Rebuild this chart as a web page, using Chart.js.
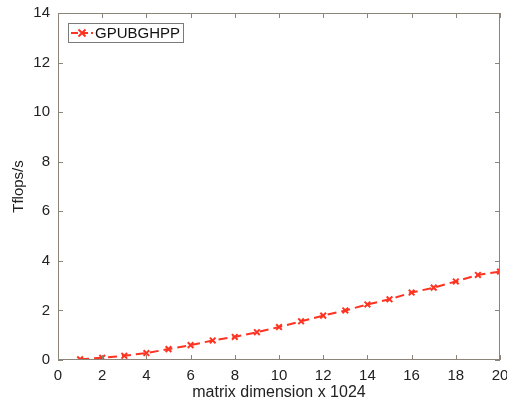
<!DOCTYPE html>
<html>
<head>
<meta charset="utf-8">
<script src="https://cdn.jsdelivr.net/npm/chart.js@4"></script>
<style>
  html, body { margin: 0; padding: 0; background: #fff; }
  #wrap { width: 507px; height: 402px; }
</style>
</head>
<body>
<div id="wrap"><canvas id="chart" width="507" height="402"></canvas></div>
<script>
// matrix dimension (x 1024)
const dims = [1, 2, 3, 4, 5, 6, 7, 8, 9, 10, 11, 12, 13, 14, 15, 16, 17, 18, 19, 20];
// GPUBGHPP Tflops/s
const gpubghpp = [0.03, 0.09, 0.17, 0.28, 0.44, 0.60, 0.79, 0.93, 1.12, 1.33,
                  1.56, 1.79, 2.00, 2.24, 2.45, 2.72, 2.92, 3.17, 3.43, 3.57];
const xTicks = [0, 2, 4, 6, 8, 10, 12, 14, 16, 18, 20];
const yTicks = [0, 2, 4, 6, 8, 10, 12, 14];

const red = "#ff3322";
const axisColor = "#8c8478";
const font = "Liberation Sans, Arial, sans-serif";

// frame + inward ticks like matlab
const framePlugin = {
  id: "frame",
  afterDraw(chart) {
    const { ctx, chartArea: a, scales } = chart;
    ctx.save();
    ctx.strokeStyle = axisColor;
    ctx.lineWidth = 1;
    ctx.strokeRect(a.left + 0.5, a.top + 0.5, a.right - a.left - 1, a.bottom - a.top - 1);
    ctx.beginPath();
    xTicks.forEach(v => {
      const x = Math.round(scales.x.getPixelForValue(v)) + 0.5;
      ctx.moveTo(x, a.bottom); ctx.lineTo(x, a.bottom - 5);
      ctx.moveTo(x, a.top); ctx.lineTo(x, a.top + 5);
    });
    yTicks.forEach(v => {
      const y = Math.round(scales.y.getPixelForValue(v)) + 0.5;
      ctx.moveTo(a.left, y); ctx.lineTo(a.left + 5, y);
      ctx.moveTo(a.right, y); ctx.lineTo(a.right - 5, y);
    });
    ctx.stroke();

    // legend box
    const bx = a.left + 10, by = a.top + 10, bw = 115, bh = 19;
    ctx.fillStyle = "#fff";
    ctx.fillRect(bx, by, bw, bh);
    ctx.strokeStyle = "#7a7a7a";
    ctx.strokeRect(bx + 0.5, by + 0.5, bw, bh);
    const ly = by + bh / 2 + 0.5;
    ctx.strokeStyle = red;
    ctx.lineWidth = 2;
    ctx.setLineDash([7, 3]);
    ctx.beginPath();
    ctx.moveTo(bx + 3, ly); ctx.lineTo(bx + 25, ly);
    ctx.stroke();
    ctx.setLineDash([]);
    ctx.beginPath();
    const cx = bx + 14, r = 3.5;
    ctx.moveTo(cx - r, ly - r); ctx.lineTo(cx + r, ly + r);
    ctx.moveTo(cx - r, ly + r); ctx.lineTo(cx + r, ly - r);
    ctx.stroke();
    ctx.fillStyle = "#111";
    ctx.font = "15px " + font;
    ctx.textBaseline = "middle";
    ctx.fillText("GPUBGHPP", bx + 27, ly + 0.5);
    ctx.restore();
  }
};

new Chart(document.getElementById("chart"), {
  type: "line",
  data: {
    datasets: [{
      label: "GPUBGHPP",
      data: dims.map((d, i) => ({ x: d, y: gpubghpp[i] })),
      borderColor: red,
      backgroundColor: red,
      borderWidth: 2,
      borderDash: [9, 5],
      pointStyle: "crossRot",
      pointRadius: 4,
      pointBorderWidth: 2,
      pointBorderColor: red,
      fill: false,
      tension: 0
    }]
  },
  options: {
    responsive: false,
    animation: false,
    layout: { padding: { top: 13, right: 7, left: 0, bottom: 0 } },
    plugins: { legend: { display: false }, tooltip: { enabled: false } },
    scales: {
      x: {
        type: "linear",
        min: 0, max: 20,
        afterBuildTicks: s => { s.ticks = xTicks.map(v => ({ value: v })); },
        afterFit: s => { s.height = 42; s.paddingLeft = 0; s.paddingRight = 0; },
        grid: { display: false, drawTicks: false },
        border: { display: false },
        ticks: { color: "#222", font: { family: font, size: 15 }, padding: 7, maxRotation: 0 },
        title: { display: true, text: "matrix dimension x 1024", color: "#222",
                 font: { family: font, size: 16 }, padding: { top: 0, bottom: 0 } }
      },
      y: {
        min: 0, max: 14,
        afterBuildTicks: s => { s.ticks = yTicks.map(v => ({ value: v })); },
        afterFit: s => { s.width = 58; s.paddingTop = 0; s.paddingBottom = 0; },
        grid: { display: false, drawTicks: false },
        border: { display: false },
        ticks: { color: "#222", font: { family: font, size: 15 }, padding: 8 },
        title: { display: true, text: "Tflops/s", color: "#222",
                 font: { family: font, size: 15 }, padding: { top: 10, bottom: 0 } }
      }
    }
  },
  plugins: [framePlugin]
});
</script>
</body>
</html>
